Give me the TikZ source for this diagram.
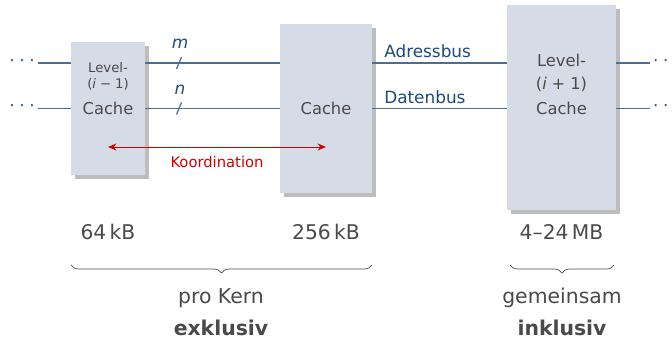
\documentclass[tikz,border=0pt]{standalone}
\usepackage{fontspec}
\setmainfont{DejaVu Sans}
\usetikzlibrary{positioning,shadows,arrows.meta,decorations.pathreplacing}

\definecolor{cachefill}{HTML}{D6DBE8}
\definecolor{cacheshadow}{HTML}{BDBDBD}
\definecolor{busblue}{HTML}{4E6D94}
\definecolor{dotblue}{HTML}{24508A}
\definecolor{labelblue}{HTML}{1D4A7E}
\definecolor{cachetext}{HTML}{4A4A4A}
\definecolor{koordred}{HTML}{D00000}

\tikzset{
  cachebox/.style={fill=cachefill, draw=none, inner sep=0pt,
    drop shadow={shadow xshift=0.09cm, shadow yshift=-0.09cm, fill=cacheshadow, opacity=1}},
  cachelabel/.style={text=cachetext, align=center, inner sep=0pt, font=\fontsize{11.6}{14}\selectfont},
  levellabel/.style={text=cachetext, align=center, inner sep=0pt, font=\fontsize{9.4}{11.4}\selectfont},
  bus/.style={busblue, line width=0.9pt},
  dotsnode/.style={text=dotblue, inner sep=2pt, font=\fontsize{12}{14}\selectfont},
  buslabel/.style={text=labelblue, inner sep=0pt, font=\fontsize{12}{14}\selectfont},
  koordarrow/.style={koordred, line width=0.6pt, {Stealth[length=6pt,width=5pt]}-{Stealth[length=6pt,width=5pt]}},
  sizelabel/.style={text=cachetext, inner sep=0pt, font=\fontsize{14.4}{17}\selectfont},
  bracket/.style={cachetext, line width=0.5pt, decorate, decoration={brace, amplitude=0.2cm}},
  grouplabel/.style={text=cachetext, inner sep=0pt, font=\fontsize{14.5}{17}\selectfont}
}

\newcommand{\busdots}{·\hspace{3.3pt}·\hspace{3.3pt}·}

\begin{document}
\begin{tikzpicture}[x=0.025cm,y=-0.025cm]
  \useasboundingbox (0,0) rectangle (672,339);

  %Caches
  \node [cachebox, minimum width=1.85cm, minimum height=3.325cm] (prevcache) at (108,108.5) {};
  \node [cachebox, minimum width=2.3cm,  minimum height=4.225cm] (cache)     at (326,108.5) {};
  \node [cachebox, minimum width=2.725cm,minimum height=5.125cm] (nextcache) at (561.5,107.5) {};

  \node [levellabel] (prevlevel) at (108,76)  {Level-\\(\textit{i}\hspace{0.3em}−\hspace{0.3em}1)};
  \node [cachelabel] (prevname)  at (108,108.5) {Cache};
  \node [cachelabel] (name)      at (326,108.5) {Cache};
  \node [cachelabel] (nextlevel) at (561.5,73) {Level-\\[2pt](\textit{i}\hspace{0.3em}+\hspace{0.3em}1)};
  \node [cachelabel] (nextname)  at (561.5,108.5) {Cache};

  %Busses
  \node [dotsnode] (addrin)  at (22,63)    {\busdots};
  \node [dotsnode] (datain)  at (22,108.5) {\busdots};
  \node [dotsnode, anchor=west] (addrout) at (650,63)   {·\hspace{3.3pt}·};
  \node [dotsnode, anchor=west] (dataout) at (650,108.5){·\hspace{3.3pt}·};

  \draw [bus] (addrin) -- (prevcache.west |- addrin);
  \draw [bus] (datain) -- (prevcache.west |- datain);
  \draw [bus] (prevcache.east |- addrin) -- (cache.west |- addrin);
  \draw [bus] (prevcache.east |- datain) -- (cache.west |- datain);
  \draw [bus] (cache.east |- addrin) -- (nextcache.west |- addrin);
  \draw [bus] (cache.east |- datain) -- (nextcache.west |- datain);
  \draw [bus] (nextcache.east |- addrout) -- (addrout);
  \draw [bus] (nextcache.east |- dataout) -- (dataout);

  %Bus widths
  \draw [bus] (176.5,69) -- (181.5,57);
  \draw [bus] (176.5,114.5) -- (181.5,102.5);
  \node [buslabel] (mwidth) at (180,44) {\textit{m}};
  \node [buslabel] (nwidth) at (180,90) {\textit{n}};

  \node [buslabel, anchor=west] (addrlabel) at (384,51) {Adressbus};
  \node [buslabel, anchor=west] (datalabel) at (384,97) {Datenbus};

  %Koordination
  \draw [koordarrow] (prevcache.center |- 0,147) -- (cache.center |- 0,147);
  \node [text=koordred, inner sep=0pt, font=\fontsize{10.5}{12}\selectfont] (koordlabel) at (217,162) {Koordination};

  %Sizes
  \node [sizelabel] (prevsize) at (108,232)   {64\,kB};
  \node [sizelabel] (size)     at (326,232)   {256\,kB};
  \node [sizelabel] (nextsize) at (561.5,232) {4–24\,MB};

  %Groups
  \draw [bracket] (372,265) -- (71,265);
  \draw [bracket] (614,265) -- (510,265);
  \node [grouplabel] (perkern)  at (221,298) {pro Kern};
  \node [grouplabel, font=\fontsize{14.5}{17}\bfseries] (exklusiv) at (221,328) {exklusiv};
  \node [grouplabel] (shared)   at (562,298) {gemeinsam};
  \node [grouplabel, font=\fontsize{14.5}{17}\bfseries] (inklusiv) at (562,328) {inklusiv};

\end{tikzpicture}
\end{document}
